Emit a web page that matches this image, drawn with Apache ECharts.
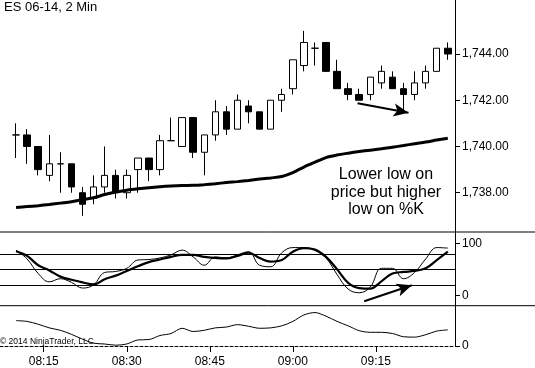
<!DOCTYPE html>
<html><head><meta charset="utf-8">
<script src="https://cdn.jsdelivr.net/npm/echarts@6/dist/echarts.min.js"></script>
<style>html,body{margin:0;padding:0;background:#fff}#c{width:535px;height:368px}</style>
</head><body><div id="c"></div>
<script>
const times = ["08:10","08:12","08:14","08:16","08:18","08:20","08:22","08:24","08:26","08:28",
  "08:30","08:32","08:34","08:36","08:38","08:40","08:42","08:44","08:46","08:48",
  "08:50","08:52","08:54","08:56","08:58","09:00","09:02","09:04","09:06","09:08",
  "09:10","09:12","09:14","09:16","09:18","09:20","09:22","09:24","09:26","09:28"];
const openP  = [1740.5,1740.5,1740.0,1738.75,1739.25,1739.25,1738.0,1737.75,1738.25,1738.75,
  1738.0,1739.0,1739.5,1739.0,1740.25,1740.0,1741.25,1739.75,1740.5,1741.5,
  1740.75,1741.75,1741.5,1740.75,1742.0,1742.5,1743.5,1744.25,1744.5,1743.25,
  1742.5,1742.25,1742.25,1742.75,1743.0,1742.5,1742.25,1742.75,1743.25,1744.25];
const closeP = [1740.5,1740.0,1739.0,1739.25,1739.25,1738.25,1737.5,1738.25,1738.75,1738.0,
  1738.75,1739.5,1739.0,1740.25,1740.25,1741.25,1739.75,1740.5,1741.5,1740.75,
  1742.0,1741.5,1740.75,1742.0,1742.25,1743.75,1744.5,1744.25,1743.25,1742.5,
  1742.25,1742.0,1743.0,1743.25,1742.5,1742.25,1742.75,1743.25,1744.25,1744.0];
const lowP   = [1739.5,1739.25,1738.75,1738.5,1738.0,1738.0,1737.0,1737.5,1738.0,1737.75,
  1737.75,1738.0,1738.5,1738.75,1740.25,1740.0,1739.5,1738.75,1740.25,1740.5,
  1740.75,1741.0,1740.75,1740.75,1741.5,1742.25,1743.25,1743.5,1743.25,1742.5,
  1742.0,1742.0,1742.0,1742.5,1742.5,1741.5,1742.0,1742.5,1743.25,1743.75];
const highP  = [1741.0,1740.75,1740.0,1740.5,1739.75,1739.25,1738.25,1738.75,1740.0,1739.0,
  1739.0,1739.5,1739.5,1740.5,1741.25,1741.25,1741.25,1740.5,1742.0,1741.75,
  1742.25,1742.0,1741.5,1742.0,1742.5,1743.75,1745.0,1744.5,1744.5,1743.75,
  1742.75,1742.5,1743.0,1743.5,1743.25,1742.75,1743.25,1743.5,1744.25,1744.5];
const movingAvg = [1737.36,1737.40,1737.44,1737.49,1737.55,1737.61,1737.70,1737.78,1737.92,1738.03,
  1738.11,1738.17,1738.22,1738.26,1738.29,1738.31,1738.32,1738.35,1738.39,1738.44,
  1738.48,1738.53,1738.59,1738.64,1738.70,1738.87,1739.11,1739.32,1739.52,1739.63,
  1739.71,1739.78,1739.84,1739.90,1739.97,1740.04,1740.12,1740.19,1740.28,1740.36];
const stochK = [87,70,42,26,32,25,14,20,44,46,52,68,69,72,78,87,74,58,74,72,
  78,84,58,55,82,92,92,87,72,40,12,5,16,52,52,32,44,70,92,91];
const stochD = [85,76,58,48,36,30,25,21,31,38,47,56,64,69,74,78,78,74,72,71,
  76,82,72,65,68,84,91,88,74,50,24,14,13,27,42,45,47,52,68,84];
const lowerInd = [63,61,54,45,39,29,17,7,5,2,5,15,16,26,31,44,36,39,45,47,
  53,49,44,45,50,61,77,83,74,61,50,38,34,34,31,23,22,28,37,40];
const stochLevels = [20,50,80];
const priceTicks = [1738,1740,1742,1744];
const stochTicks = [0,100];
const lowerTicks = [0];
const timeTicks = ["08:15","08:30","08:45","09:00","09:15"];
const title = "ES 06-14, 2 Min";
const note = "Lower low on\nprice but higher\nlow on %K";
const copyright = "\u00a9 2014 NinjaTrader, LLC";
const priceArrow = [[71.7,1741.87],[80.9,1741.46]];
const stochArrow = [[72.9,-11.4],[81.5,19.5]];

const FONT = "'Liberation Sans', Arial, sans-serif";
function toMin(s){const p=s.split(':').map(Number);return (p[0]-8)*60+p[1];}
function fmtTime(v){const t=Math.round(v);const h=8+Math.floor(t/60),m=t%60;return String(h).padStart(2,'0')+':'+String(m).padStart(2,'0');}
const xs = times.map(toMin);
const candles = xs.map((x,i)=>[x,openP[i],closeP[i],lowP[i],highP[i]]);
const pair = arr => xs.map((x,i)=>[x,arr[i]]);
const tickMins = timeTicks.map(toMin);

const XMIN = 7.1, XMAX = 89.3;
const grids = [
  {left:0,right:80,top:0,height:232},
  {left:0,right:80,top:232,height:73.7},
  {left:0,right:80,top:305.7,height:40.8}
];
function xAx(i, show){
  return {type:'value',gridIndex:i,min:XMIN,max:XMAX,show:show,
    axisLine:{show:show,lineStyle:{color:'#000',width:1,type:[3,2]}},
    axisTick:{show:show,customValues:tickMins,length:6,lineStyle:{color:'#000'}},
    axisLabel:{show:show,customValues:tickMins,formatter:fmtTime,color:'#000',fontSize:12,fontFamily:FONT,margin:10},
    splitLine:{show:false}};
}
function yAx(i,min,max,ticks,fmt){
  return {type:'value',gridIndex:i,position:'right',min:min,max:max,
    axisLine:{show:true,lineStyle:{color:'#000',width:1}},
    axisTick:{show:true,customValues:ticks,length:5,lineStyle:{color:'#000'}},
    axisLabel:{show:true,customValues:ticks,formatter:fmt,color:'#000',fontSize:12,fontFamily:FONT,margin:7},
    splitLine:{show:false}};
}
const priceFmt = v => Number(v).toLocaleString('en-US',{minimumFractionDigits:2,maximumFractionDigits:2});

const chart = echarts.init(document.getElementById('c'), null, {renderer:'canvas'});
chart.setOption({
  animation:false,
  backgroundColor:'#fff',
  grid:grids,
  xAxis:[xAx(0,false),xAx(1,false),xAx(2,true)],
  yAxis:[yAx(0,1736.301,1746.336,priceTicks,priceFmt),yAx(1,-20,122,stochTicks,v=>String(v)),yAx(2,0,100,lowerTicks,v=>String(v))],
  title:{text:title,left:4,top:1,padding:0,textStyle:{fontSize:13,fontWeight:'normal',fontFamily:FONT,color:'#000'}},
  series:[
    {type:'candlestick',xAxisIndex:0,yAxisIndex:0,data:candles,encode:{x:0,y:[1,2,3,4]},barWidth:7,
      itemStyle:{color:'#fff',color0:'#000',borderColor:'#000',borderColor0:'#000',borderColorDoji:'#000',borderWidth:1},
      markLine:{silent:true,symbol:['none','arrow'],label:{show:false},
        lineStyle:{color:'#000',width:2,type:'solid'},
        data:[[{coord:priceArrow[0],symbol:'none'},{coord:priceArrow[1],symbol:'arrow',symbolSize:[10,15]}]]}},
    {type:'line',xAxisIndex:0,yAxisIndex:0,data:pair(movingAvg),symbol:'none',smooth:0.3,
      lineStyle:{color:'#000',width:3}},
    {type:'line',xAxisIndex:1,yAxisIndex:1,data:pair(stochK),symbol:'none',smooth:0.4,
      lineStyle:{color:'#000',width:1},
      markLine:{silent:true,symbol:['none','none'],label:{show:false},
        lineStyle:{color:'#000',width:1,type:'solid'},
        data:stochLevels.map(v=>({yAxis:v}))}},
    {type:'line',xAxisIndex:1,yAxisIndex:1,data:pair(stochD),symbol:'none',smooth:0.4,
      lineStyle:{color:'#000',width:2.2},
      markLine:{silent:true,symbol:['none','arrow'],label:{show:false},
        lineStyle:{color:'#000',width:2,type:'solid'},
        data:[[{coord:stochArrow[0],symbol:'none'},{coord:stochArrow[1],symbol:'arrow',symbolSize:[10,15]}]]}},
    {type:'line',xAxisIndex:2,yAxisIndex:2,data:pair(lowerInd),symbol:'none',smooth:0.3,
      lineStyle:{color:'#000',width:1}}
  ],
  graphic:[
    {type:'line',silent:true,shape:{x1:0,y1:232,x2:535,y2:232},style:{stroke:'#000',lineWidth:1}},
    {type:'line',silent:true,shape:{x1:0,y1:305.7,x2:535,y2:305.7},style:{stroke:'#000',lineWidth:1}},
    {type:'text',silent:true,x:386,y:192.5,style:{text:note,fill:'#000',fontSize:16,fontFamily:FONT,lineHeight:17.5,align:'center',verticalAlign:'middle'}},
    {type:'text',silent:true,x:0,y:341.5,style:{text:copyright,fill:'#000',fontSize:8.5,fontFamily:FONT,align:'left',verticalAlign:'middle'}}
  ]
});
</script>
</body></html>
